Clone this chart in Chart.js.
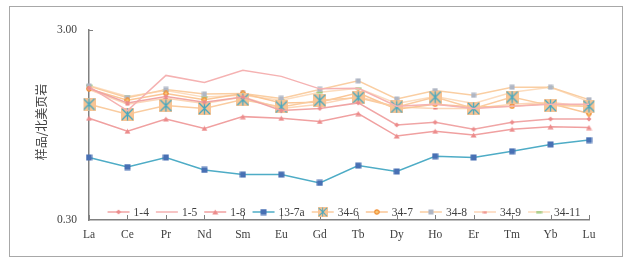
<!DOCTYPE html>
<html>
<head>
<meta charset="utf-8">
<script src="https://cdn.jsdelivr.net/npm/chart.js@4.4.1/dist/chart.umd.min.js"></script>
<style>
  html, body { margin: 0; padding: 0; background: #fff; }
</style>
</head>
<body>
<canvas id="ree-chart" width="629" height="261"></canvas>
<script>
const elements = ['La', 'Ce', 'Pr', 'Nd', 'Sm', 'Eu', 'Gd', 'Tb', 'Dy', 'Ho', 'Er', 'Tm', 'Yb', 'Lu'];
const yTicks = [0.3, 3];

const s1_4 = [1.48, 1.24, 1.34, 1.25, 1.33, 1.13, 1.16, 1.24, 0.95, 0.98, 0.90, 0.98, 1.02, 1.02];
const s1_5 = [1.51, 1.13, 1.73, 1.59, 1.84, 1.71, 1.47, 1.48, 1.19, 1.22, 1.16, 1.19, 1.22, 1.22];
const s1_8 = [1.03, 0.88, 1.02, 0.91, 1.05, 1.03, 0.99, 1.09, 0.83, 0.88, 0.84, 0.90, 0.93, 0.92];
const s13_7a = [0.64, 0.57, 0.64, 0.55, 0.52, 0.52, 0.47, 0.58, 0.54, 0.65, 0.64, 0.69, 0.75, 0.79];
const s34_6 = [1.22, 1.08, 1.20, 1.16, 1.29, 1.18, 1.28, 1.32, 1.18, 1.33, 1.16, 1.33, 1.20, 1.19];
const s34_7 = [1.47, 1.28, 1.39, 1.29, 1.39, 1.24, 1.25, 1.40, 1.15, 1.22, 1.18, 1.19, 1.23, 1.09];
const s34_8 = [1.52, 1.32, 1.46, 1.38, 1.39, 1.31, 1.46, 1.62, 1.30, 1.44, 1.36, 1.50, 1.50, 1.29];
const s34_9 = [1.46, 1.22, 1.31, 1.23, 1.33, 1.16, 1.22, 1.34, 1.18, 1.16, 1.16, 1.22, 1.25, 1.18];
const s34_11 = [1.53, 1.34, 1.44, 1.33, 1.36, 1.28, 1.41, 1.48, 1.23, 1.34, 1.23, 1.41, 1.50, 1.26];

const serif = '"Liberation Serif", "Times New Roman", serif';

// little canvases used as point markers (chart + legend)
function marker(w, h, draw) {
  const c = document.createElement('canvas');
  c.width = w; c.height = h;
  draw(c.getContext('2d'), w, h);
  return c;
}

const mk = {
  dot: marker(6, 6, (g) => {
    g.fillStyle = 'rgb(236,140,140)';
    g.beginPath(); g.moveTo(3, 0.5); g.lineTo(5.5, 3); g.lineTo(3, 5.5); g.lineTo(0.5, 3); g.fill();
  }),
  tri: marker(7, 6, (g) => {
    g.fillStyle = 'rgb(236,140,140)';
    g.beginPath(); g.moveTo(3.5, 0.5); g.lineTo(6.5, 5.5); g.lineTo(0.5, 5.5); g.fill();
  }),
  blueSq: marker(7, 7, (g) => {
    g.fillStyle = 'rgb(72,112,180)';
    g.fillRect(0.5, 0.5, 6, 6);
  }),
  bigX: marker(13, 13, (g) => {
    g.fillStyle = 'rgb(248,196,148)';
    g.fillRect(0, 0, 13, 13);
    g.strokeStyle = 'rgb(70,168,192)';
    g.lineWidth = 1.3;
    g.beginPath(); g.moveTo(1, 1); g.lineTo(12, 12); g.moveTo(12, 1); g.lineTo(1, 12);
    g.moveTo(6.5, 0.5); g.lineTo(6.5, 12.5);
    g.stroke();
  }),
  orangeDot: marker(6, 6, (g) => {
    g.fillStyle = 'rgb(248,200,120)';
    g.strokeStyle = 'rgb(240,140,50)';
    g.lineWidth = 1.2;
    g.beginPath(); g.arc(3, 3, 2.2, 0, Math.PI * 2); g.fill(); g.stroke();
  }),
  graySq: marker(6, 6, (g) => {
    g.fillStyle = 'rgb(175,182,196)';
    g.fillRect(0.5, 0.5, 5, 5);
  }),
  pinkDash: marker(5, 3, (g) => {
    g.fillStyle = 'rgb(236,130,130)';
    g.fillRect(0.5, 1, 4, 1.5);
  }),
  greenDash: marker(7, 3, (g) => {
    g.fillStyle = 'rgb(150,200,120)';
    g.fillRect(0.5, 0.5, 6, 2);
  })
};

function series(label, data, color, point) {
  return {
    label: label,
    data: data,
    borderColor: color,
    backgroundColor: color,
    borderWidth: 1.5,
    pointStyle: point || 'circle',
    pointRadius: point ? 4 : 0,
    tension: 0,
    fill: false
  };
}

const datasets = [
  series('1-4', s1_4, 'rgb(240,165,165)', mk.dot),
  series('1-5', s1_5, 'rgb(245,178,178)', null),
  series('1-8', s1_8, 'rgb(240,160,160)', mk.tri),
  series('13-7a', s13_7a, 'rgb(78,172,198)', mk.blueSq),
  series('34-6', s34_6, 'rgb(250,204,160)', mk.bigX),
  series('34-7', s34_7, 'rgb(250,198,150)', mk.orangeDot),
  series('34-8', s34_8, 'rgb(250,206,162)', mk.graySq),
  series('34-9', s34_9, 'rgb(252,214,184)', mk.pinkDash),
  series('34-11', s34_11, 'rgb(252,220,190)', mk.greenDash)
];

const extras = {
  id: 'extras',
  beforeDraw(chart) {
    const ctx = chart.ctx;
    ctx.save();
    ctx.strokeStyle = '#a8a8a8';
    ctx.lineWidth = 1;
    ctx.strokeRect(9.5, 6.5, 613, 250);
    ctx.restore();
  },
  afterDraw(chart) {
    const { ctx, chartArea, scales } = chart;
    ctx.save();
    // inner tick marks
    ctx.strokeStyle = '#808080';
    ctx.lineWidth = 1;
    scales.x.ticks.forEach((t, i) => {
      const px = Math.round(scales.x.getPixelForTick(i)) + 0.5;
      ctx.beginPath();
      ctx.moveTo(px, chartArea.bottom);
      ctx.lineTo(px, chartArea.bottom - 5);
      ctx.stroke();
    });
    const topY = Math.round(scales.y.getPixelForValue(yTicks[1])) + 0.5;
    ctx.beginPath();
    ctx.moveTo(chartArea.left, topY);
    ctx.lineTo(chartArea.left + 4, topY);
    ctx.stroke();

    // y axis title
    ctx.fillStyle = '#404040';
    ctx.font = '12px "Noto Sans CJK SC"';
    ctx.textAlign = 'center';
    ctx.textBaseline = 'middle';
    ctx.save();
    ctx.translate(41, (chartArea.top + chartArea.bottom) / 2 - 3);
    ctx.rotate(-Math.PI / 2);
    ctx.fillText('样品/北美页岩', 0, 0);
    ctx.restore();

    // legend inside the plot, along the bottom
    ctx.font = '11.5px ' + serif;
    const lineLen = 22, gap = 4, spacing = 7;
    const items = chart.data.datasets.map(ds => ({ ds, w: ctx.measureText(ds.label).width }));
    const total = items.reduce((a, it) => a + lineLen + gap + it.w, 0) + spacing * (items.length - 1);
    let x = (chartArea.left + chartArea.right) / 2 - total / 2 + 5;
    const y = chartArea.bottom - 8;
    ctx.textAlign = 'left';
    items.forEach(it => {
      ctx.strokeStyle = it.ds.borderColor;
      ctx.lineWidth = 1.5;
      ctx.beginPath();
      ctx.moveTo(x, y);
      ctx.lineTo(x + lineLen, y);
      ctx.stroke();
      const p = it.ds.pointStyle;
      if (it.ds.pointRadius > 0 && p instanceof HTMLCanvasElement) {
        const s = p === mk.bigX ? 0.75 : 1;
        ctx.drawImage(p, x + lineLen / 2 - p.width * s / 2, y - p.height * s / 2, p.width * s, p.height * s);
      }
      ctx.fillStyle = '#404040';
      ctx.fillText(it.ds.label, x + lineLen + gap, y + 1);
      x += lineLen + gap + it.w + spacing;
    });
    ctx.restore();
  }
};

new Chart(document.getElementById('ree-chart'), {
  type: 'line',
  data: { labels: elements, datasets: datasets },
  options: {
    responsive: false,
    animation: false,
    layout: { padding: { left: 0, right: 40, top: 30, bottom: 0 } },
    plugins: { legend: { display: false }, tooltip: { enabled: false } },
    scales: {
      x: {
        offset: false,
        grid: { display: false, drawTicks: false },
        border: { display: true, color: '#808080', width: 1.5 },
        ticks: { color: '#404040', font: { family: serif, size: 11.5 }, padding: 8, maxRotation: 0, autoSkip: false },
        afterFit: (s) => { s.height = 41; }
      },
      y: {
        type: 'logarithmic',
        min: yTicks[0],
        max: yTicks[1],
        grid: { display: false, drawTicks: false },
        border: { display: true, color: '#808080', width: 1.5 },
        afterBuildTicks: (s) => { s.ticks = yTicks.map(v => ({ value: v })); },
        ticks: {
          color: '#404040',
          font: { family: serif, size: 11.5 },
          padding: 12,
          callback: (v) => Number(v).toFixed(2)
        },
        afterFit: (s) => { s.width = 89; }
      }
    }
  },
  plugins: [extras]
});
</script>
</body>
</html>
